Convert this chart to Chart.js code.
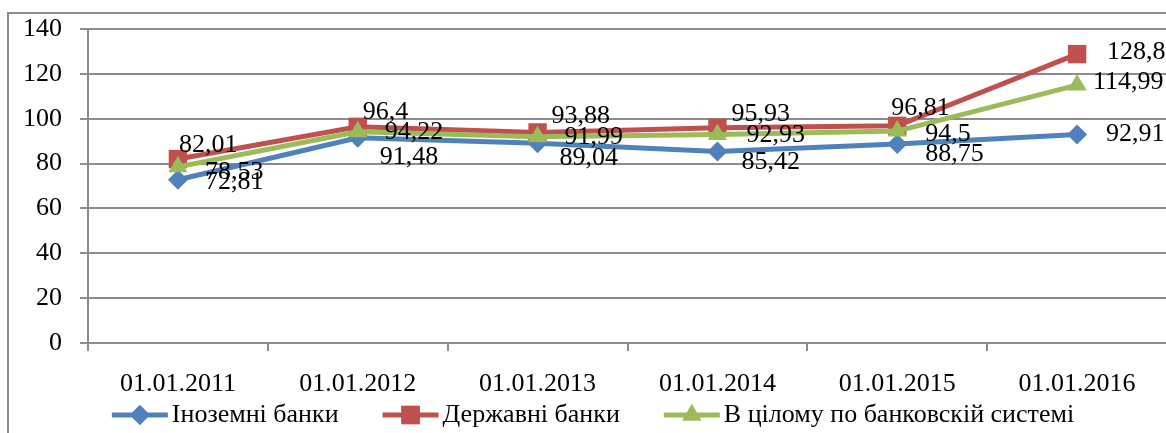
<!DOCTYPE html>
<html>
<head>
<meta charset="utf-8">
<script src="https://cdn.jsdelivr.net/npm/chart.js@4"></script>
<style>
  html, body { margin: 0; padding: 0; background: #fff; overflow: hidden; }
  #wrap { position: relative; width: 1166px; height: 433px; overflow: hidden; }
  canvas { position: absolute; left: 0; top: 0; }
</style>
</head>
<body>
<div id="wrap"><canvas id="chart" width="1180" height="433"></canvas></div>
<script>
// дані з діаграми
const dates = ['01.01.2011', '01.01.2012', '01.01.2013', '01.01.2014', '01.01.2015', '01.01.2016'];
const foreignBanks = [72.81, 91.48, 89.04, 85.42, 88.75, 92.91];
const stateBanks = [82.01, 96.4, 93.88, 95.93, 96.81, 128.8];
const wholeSystem = [78.53, 94.22, 91.99, 92.93, 94.5, 114.99];
const yTicks = [0, 20, 40, 60, 80, 100, 120, 140];

const FONT = '"Liberation Serif", "Times New Roman", serif';
const FSIZE = 26;
const GRID = '#8c8c8c';

// зсув підписів відносно точки (dx, dy)
const labelShift = [
    [[27, 2], [22, 19], [22, 15], [24, 11], [28, 10], [29, 0]],
    [[1, -14], [5, -15], [14, -16], [14, -14], [-6, -18], [30, -2]],
    [[27, 5], [27, 0], [27, 0], [29, 1], [28, 3], [16, -3]]
];

const fmt = v => String(v).replace('.', ',');

// рамка навколо діаграми
const framePlugin = {
    id: 'frame',
    beforeDraw(chart) {
        const ctx = chart.ctx;
        ctx.save();
        ctx.strokeStyle = GRID;
        ctx.lineWidth = 2;
        ctx.strokeRect(8, 13, 1400, 600);
        ctx.restore();
    }
};

// підписи значень
const valueLabels = {
    id: 'valueLabels',
    afterDatasetsDraw(chart) {
        const ctx = chart.ctx;
        ctx.save();
        ctx.font = FSIZE + 'px ' + FONT;
        ctx.fillStyle = '#000';
        ctx.textAlign = 'left';
        ctx.textBaseline = 'middle';
        chart.data.datasets.forEach((ds, i) => {
            const meta = chart.getDatasetMeta(i);
            meta.data.forEach((pt, j) => {
                const [dx, dy] = labelShift[i][j];
                ctx.fillText(fmt(ds.data[j]), pt.x + dx, pt.y + dy);
            });
        });
        ctx.restore();
    }
};

// легенда знизу: лінія + маркер + текст
const bottomLegend = {
    id: 'bottomLegend',
    afterDraw(chart) {
        const ctx = chart.ctx;
        const y = 415;
        const lineLen = 56, gapText = 4, gapItem = 44;
        ctx.save();
        ctx.font = FSIZE + 'px ' + FONT;
        const items = chart.data.datasets.map(ds => ({ ds, w: ctx.measureText(ds.label).width }));
        const total = items.reduce((s, it) => s + lineLen + gapText + it.w, 0) + gapItem * (items.length - 1);
        let x = 593 - total / 2;
        items.forEach(({ ds, w }) => {
            ctx.strokeStyle = ds.borderColor;
            ctx.lineWidth = 5;
            ctx.beginPath();
            ctx.moveTo(x, y);
            ctx.lineTo(x + lineLen, y);
            ctx.stroke();
            ctx.fillStyle = ds.borderColor;
            Chart.helpers.drawPoint(ctx, { pointStyle: ds.pointStyle, radius: ds.pointRadius, borderWidth: 0 }, x + lineLen / 2, y);
            ctx.fill();
            ctx.fillStyle = '#000';
            ctx.textAlign = 'left';
            ctx.textBaseline = 'middle';
            ctx.fillText(ds.label, x + lineLen + gapText, y);
            x += lineLen + gapText + w + gapItem;
        });
        ctx.restore();
    }
};

const ctx = document.getElementById('chart').getContext('2d');
new Chart(ctx, {
    type: 'line',
    data: {
        labels: dates,
        datasets: [
            {
                label: 'Іноземні банки', data: foreignBanks, order: 2,
                borderColor: '#4F81BD', backgroundColor: '#4F81BD', borderWidth: 5,
                pointStyle: 'rectRot', pointRadius: 10, pointBorderWidth: 0
            },
            {
                label: 'Державні банки', data: stateBanks, order: 1,
                borderColor: '#C0504D', backgroundColor: '#C0504D', borderWidth: 5,
                pointStyle: 'rect', pointRadius: 13, pointBorderWidth: 0
            },
            {
                label: 'В цілому по банковскій системі', data: wholeSystem, order: 0,
                borderColor: '#9BBB59', backgroundColor: '#9BBB59', borderWidth: 5,
                pointStyle: 'triangle', pointRadius: 11, pointBorderWidth: 0
            }
        ]
    },
    options: {
        responsive: false,
        animation: false,
        events: [],
        layout: { padding: { left: 0, top: 29, right: 10, bottom: 0 } },
        plugins: { legend: { display: false }, tooltip: { enabled: false } },
        scales: {
            x: {
                offset: true,
                afterFit: s => { s.height = 90; },
                grid: { offset: true, drawOnChartArea: false, drawTicks: true, tickLength: 8, color: GRID, lineWidth: 2 },
                border: { display: true, color: GRID, width: 2 },
                ticks: { color: '#000', font: { family: FONT, size: FSIZE }, padding: 18, maxRotation: 0, autoSkip: false }
            },
            y: {
                min: 0, max: 140,
                afterFit: s => { s.width = 88; s.paddingTop = 0; s.paddingBottom = 0; },
                afterBuildTicks: s => { s.ticks = yTicks.map(v => ({ value: v })); },
                grid: { color: GRID, lineWidth: 2, tickLength: 8 },
                border: { display: true, color: GRID, width: 2 },
                ticks: { color: '#000', font: { family: FONT, size: FSIZE }, padding: 18 }
            }
        }
    },
    plugins: [framePlugin, valueLabels, bottomLegend]
});
</script>
</body>
</html>
